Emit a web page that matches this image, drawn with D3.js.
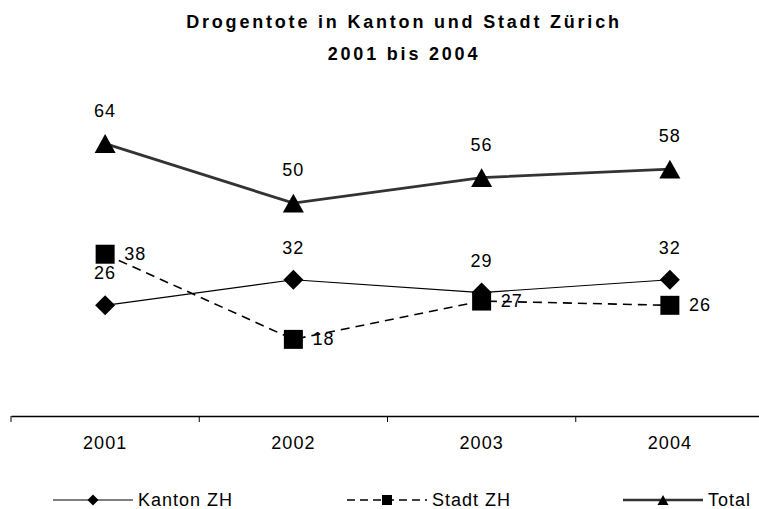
<!DOCTYPE html>
<html>
<head>
<meta charset="utf-8">
<script src="https://cdn.jsdelivr.net/npm/d3@7"></script>
<style>
  body { margin: 0; background: #fff; }
  text { font-family: Arial, "Liberation Sans", sans-serif; fill: #000; }
</style>
</head>
<body>
<div id="chart"></div>
<script>
// data
var years = ["2001", "2002", "2003", "2004"];
var kantonZH = [26, 32, 29, 32];
var stadtZH = [38, 18, 27, 26];
var total = [64, 50, 56, 58];
var seriesNames = ["Kanton ZH", "Stadt ZH", "Total"];

var svgWidth = 759, svgHeight = 509;

var svg = d3.select("#chart").append("svg")
    .attr("width", svgWidth)
    .attr("height", svgHeight);

// scales
var xScale = d3.scaleBand().domain(years).range([11, 764]);
var yScale = d3.scaleLinear().domain([0, 70]).range([416, 118]);
var cx = function (d, i) { return xScale(years[i]) + xScale.bandwidth() / 2; };

// title
var title = svg.append("text")
    .attr("text-anchor", "middle")
    .attr("font-size", 18)
    .attr("font-weight", "bold")
    .attr("letter-spacing", 2.8);
title.append("tspan").attr("x", 404).attr("y", 28).text("Drogentote in Kanton und Stadt Zürich");
title.append("tspan").attr("x", 404).attr("y", 60).text("2001 bis 2004");

// x axis
var xAxis = d3.axisBottom(xScale).tickSize(0).tickPadding(20);
var axisG = svg.append("g")
    .attr("transform", "translate(0,416)")
    .call(xAxis);
axisG.select(".domain").attr("stroke", "#000").attr("stroke-width", 1.5);
axisG.selectAll("text")
    .attr("font-size", 18)
    .attr("letter-spacing", 1)
    .attr("font-family", "Arial, 'Liberation Sans', sans-serif");
// tick marks between categories
var bounds = years.map(function (y) { return xScale(y); });
svg.selectAll(".sep").data(bounds).enter().append("line")
    .attr("x1", d => d).attr("x2", d => d)
    .attr("y1", 416).attr("y2", 422)
    .attr("stroke", "#000").attr("stroke-width", 1);

var line = d3.line().x(cx).y(d => yScale(d));

// marker shapes
function triPath(w) {
    var h = w * 0.9;
    return "M0," + (-h / 2) + "L" + (w / 2) + "," + (h / 2) + "L" + (-w / 2) + "," + (h / 2) + "Z";
}
function diaPath(w) {
    var r = w / 2;
    return "M0," + (-r) + "L" + r + ",0L0," + r + "L" + (-r) + ",0Z";
}
function sqPath(w) {
    var r = w / 2;
    return "M" + (-r) + "," + (-r) + "H" + r + "V" + r + "H" + (-r) + "Z";
}

// Kanton ZH
svg.append("path").datum(kantonZH)
    .attr("d", line).attr("fill", "none")
    .attr("stroke", "#000").attr("stroke-width", 1.2);
// Stadt ZH
svg.append("path").datum(stadtZH)
    .attr("d", line).attr("fill", "none")
    .attr("stroke", "#000").attr("stroke-width", 1.6)
    .attr("stroke-dasharray", "9,6");
// Total
svg.append("path").datum(total)
    .attr("d", line).attr("fill", "none")
    .attr("stroke", "#333").attr("stroke-width", 2.8);

// markers
svg.selectAll(".mk").data(kantonZH).enter().append("path")
    .attr("d", diaPath(20))
    .attr("transform", (d, i) => "translate(" + cx(d, i) + "," + yScale(d) + ")")
    .attr("fill", "#000");
svg.selectAll(".ms").data(stadtZH).enter().append("path")
    .attr("d", sqPath(19))
    .attr("transform", (d, i) => "translate(" + cx(d, i) + "," + yScale(d) + ")")
    .attr("fill", "#000");
svg.selectAll(".mt").data(total).enter().append("path")
    .attr("d", triPath(21))
    .attr("transform", (d, i) => "translate(" + cx(d, i) + "," + yScale(d) + ")")
    .attr("fill", "#000");

// data labels
function labels(data, dx, dy, anchor) {
    svg.append("g").selectAll("text").data(data).enter().append("text")
        .attr("x", (d, i) => cx(d, i) + dx)
        .attr("y", d => yScale(d) + dy)
        .attr("text-anchor", anchor)
        .attr("font-size", 18)
        .attr("letter-spacing", 1)
        .text(d => d);
}
labels(total, 0, -27, "middle");
labels(kantonZH, 0, -26, "middle");
labels(stadtZH, 19, 6, "start");

// legend
var legend = [
    { name: seriesNames[0], mx: 93, shape: diaPath(11), dash: null, w: 1.2, c: "#000" },
    { name: seriesNames[1], mx: 387, shape: sqPath(10), dash: "8,5", w: 1.6, c: "#000" },
    { name: seriesNames[2], mx: 663, shape: triPath(11), dash: null, w: 2.6, c: "#333" }
];
var ly = 500;
var lg = svg.append("g").selectAll("g").data(legend).enter().append("g");
lg.append("line")
    .attr("x1", d => d.mx - 40).attr("x2", d => d.mx + 40)
    .attr("y1", ly).attr("y2", ly)
    .attr("stroke", d => d.c)
    .attr("stroke-width", d => d.w)
    .attr("stroke-dasharray", d => d.dash);
lg.append("path")
    .attr("d", d => d.shape)
    .attr("transform", d => "translate(" + d.mx + "," + ly + ")")
    .attr("fill", "#000");
lg.append("text")
    .attr("x", d => d.mx + 45)
    .attr("y", ly + 6)
    .attr("font-size", 18)
    .attr("letter-spacing", 1)
    .text(d => d.name);
</script>
</body>
</html>
